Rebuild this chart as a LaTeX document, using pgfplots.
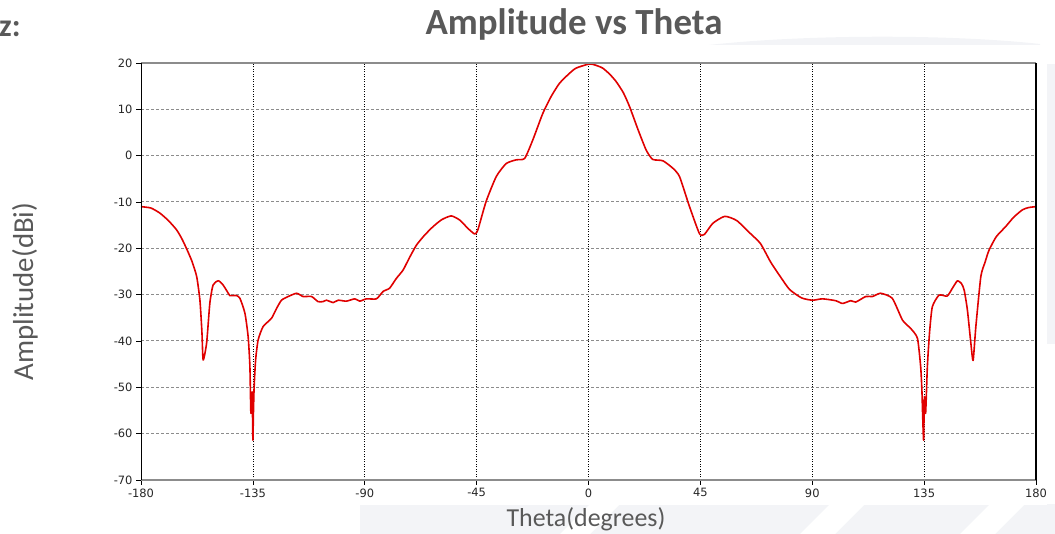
\documentclass[border=0pt]{standalone}
\usepackage{pgfplots}
\pgfplotsset{compat=1.18}
\usepackage{fontspec}
\setmainfont{DejaVu Sans}
\newfontfamily\calibri{Carlito}
\definecolor{labgray}{HTML}{595959}
\definecolor{gridgray}{HTML}{8C8C8C}
\definecolor{curvered}{HTML}{E00000}
\definecolor{wm}{HTML}{F3F4F7}

\pgfplotstableread{
theta amp
-180 -11.0
-176 -11.3
-172.4 -12.4
-169 -14.0
-165.7 -16.0
-163.5 -18.0
-161.4 -20.4
-159.5 -22.8
-157.6 -26.1
-156.3 -31.2
-155.5 -38.0
-155.0 -44.1
-153.6 -40.4
-152.3 -31.8
-151.0 -27.9
-148.9 -27.0
-147.0 -27.9
-144.9 -29.7
-144.3 -30.2
-141.6 -30.2
-140.2 -30.8
-138.2 -34.0
-136.9 -39.1
-136.2 -45.5
-135.8 -55.6
-135.3 -51.0
-135.0 -61.4
-134.8 -56.0
-134.5 -50.0
-133.9 -44.1
-132.9 -39.8
-130.9 -36.9
-127.5 -35.1
-125.5 -33.0
-123.5 -31.2
-120.8 -30.4
-117.4 -29.7
-114.8 -30.4
-111.4 -30.4
-108.8 -31.5
-106.8 -31.5
-105.4 -31.2
-102.7 -31.7
-100.7 -31.2
-97.4 -31.4
-94.0 -30.9
-92.0 -31.4
-89.3 -30.9
-85.3 -30.9
-82.6 -29.3
-80.0 -28.6
-77.3 -26.5
-74.6 -24.7
-72.0 -22.0
-69.2 -19.3
-66.0 -17.2
-62.5 -15.3
-59.0 -13.8
-55.2 -13.0
-51.8 -13.9
-48.5 -15.7
-45.8 -16.9
-44.5 -16.0
-41.2 -9.9
-37.1 -4.5
-33.1 -1.7
-29.1 -0.9
-25.7 -0.6
-22.4 3.4
-18.4 9.1
-15.0 12.8
-11.7 15.6
-8.0 17.6
-5.0 18.9
0.4 19.8
3.0 19.5
5.7 18.9
8.5 17.6
11.1 16.0
14.0 13.6
16.5 10.6
20.0 5.5
23.2 1.2
25.8 -0.8
29.9 -1.1
33.9 -2.7
36.6 -4.5
40.5 -10.8
44.6 -16.8
46.6 -17.0
50.0 -14.6
54.8 -13.1
59.6 -14.0
65.1 -16.8
69.2 -19.0
73.3 -23.0
77.4 -26.3
80.9 -28.9
85.7 -30.7
90.1 -31.2
94.1 -30.9
99.4 -31.3
102.2 -31.9
105.5 -31.3
107.5 -31.6
111.5 -30.4
114.2 -30.4
117.5 -29.7
122.2 -30.8
126.3 -35.5
129.6 -37.3
132.3 -39.4
133.6 -45.5
134.1 -50.6
134.4 -56.0
134.8 -61.4
135.1 -52.0
135.6 -55.6
136.3 -45.5
137.2 -38.0
138.3 -32.6
141.0 -30.1
144.3 -30.3
146.5 -28.5
148.4 -27.0
150.0 -27.6
151.1 -29.0
152.4 -33.3
153.8 -40.5
154.7 -44.2
155.8 -36.9
157.8 -26.1
159.5 -23.0
161.1 -20.4
164.0 -17.5
167.8 -15.3
171.0 -13.3
174.5 -11.7
177.0 -11.2
180.0 -11.0
}\pattern

\begin{document}
\begin{tikzpicture}[x=1bp,y=1bp]
\useasboundingbox (0,0) rectangle (1055,534);
% faint watermark shapes
\fill[wm] (360,0) -- (1055,0) -- (1055,30) -- (360,30) -- cycle;
\fill[white] (560,0) -- (590,0) -- (620,30) -- (590,30) -- cycle;
\fill[white] (800,0) -- (835,0) -- (865,30) -- (830,30) -- cycle;
\fill[white] (960,0) -- (995,0) -- (1025,30) -- (990,30) -- cycle;
\fill[wm] (1047,190) rectangle (1055,470);
\fill[wm] (700,488) .. controls (800,500) and (950,500) .. (1040,490) -- (1040,486) -- (700,486) -- cycle;
\fill[white] (100,29) rectangle (1047,489);

\begin{axis}[
  at={(141bp,54bp)}, anchor=south west,
  scale only axis, width=895bp, height=417bp,
  xmin=-180, xmax=180, ymin=-70, ymax=20,
  xtick={-180,-135,...,180}, ytick={-70,-60,...,20},
  tick pos=left, tick align=outside, major tick length=5bp,
  tick style={black, line width=0.6bp},
  axis line style={draw=none},
  grid=major,
  x grid style={black, line width=0.7bp, dash pattern=on 1.2bp off 1.3bp},
  y grid style={gridgray, line width=1bp, dash pattern=on 3bp off 2bp},
  tick label style={font=\fontsize{11.5}{13}\selectfont, text=black!85},
  /pgf/number format/assume math mode=true,
  clip=false,
]
\addplot[curvered, line width=1.6bp, line join=round, smooth, tension=0.35] table[x=theta, y=amp] {\pattern};
\draw[gridgray, line width=2bp] (rel axis cs:0,1) -- (rel axis cs:1,1);
\draw[gridgray, line width=2bp] (rel axis cs:0,0) -- (rel axis cs:1,0);
\draw[black, line width=0.8bp] (rel axis cs:0,0) -- (rel axis cs:0,1);
\draw[black, line width=1.2bp] (rel axis cs:1,0) -- (rel axis cs:1,1);
\end{axis}

\node[anchor=base, inner sep=0, font=\calibri\bfseries\fontsize{37}{40}\selectfont, text=labgray] at (574,499) {Amplitude vs Theta};
\node[anchor=base west, inner sep=0, font=\calibri\bfseries\fontsize{32}{36}\selectfont, text=labgray] at (-1,497) {z:};
\node[rotate=90, inner sep=0, font=\calibri\fontsize{29}{32}\selectfont, text=labgray] at (25,242.5) {Amplitude(dBi)};
\node[anchor=base, inner sep=0, font=\calibri\fontsize{26}{30}\selectfont, text=labgray] at (586,7) {Theta(degrees)};
\end{tikzpicture}
\end{document}
